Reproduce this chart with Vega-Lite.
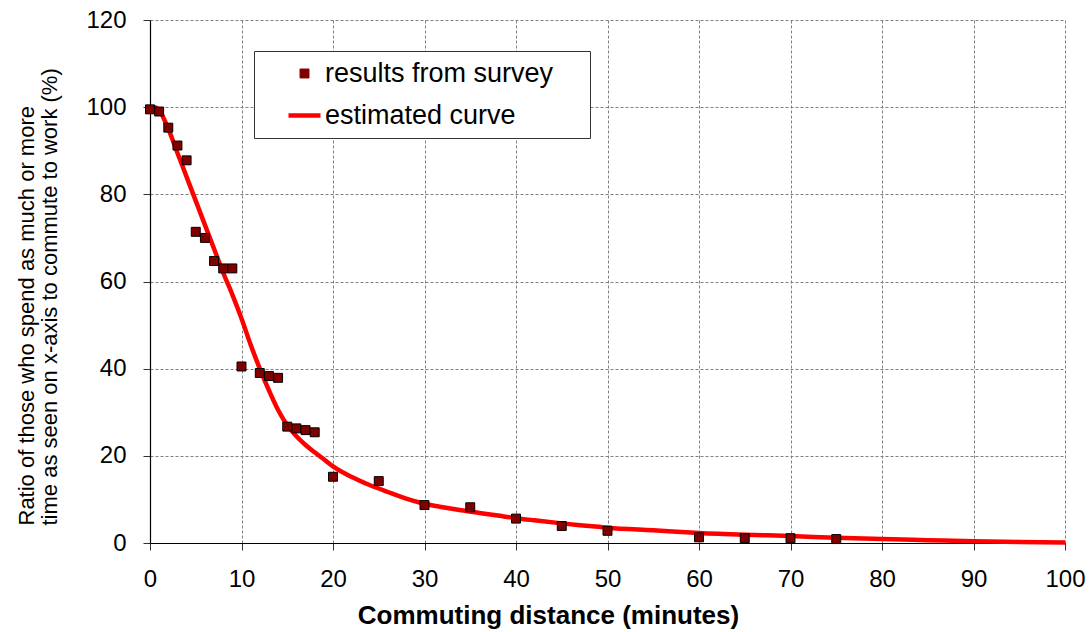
{
  "$schema": "https://vega.github.io/schema/vega-lite/v6.json",
  "width": 915,
  "height": 523,
  "autosize": {"type": "none"},
  "padding": {"left": 150, "top": 20, "right": 25, "bottom": 89},
  "background": "white",
  "config": {"view": {"stroke": null}, "font": "Liberation Sans"},
  "datasets": {
    "survey": [
      {"minutes": 0, "ratio": 99.5, "series": "results from survey"},
      {"minutes": 1, "ratio": 99, "series": "results from survey"},
      {"minutes": 2, "ratio": 95.3, "series": "results from survey"},
      {"minutes": 3, "ratio": 91.2, "series": "results from survey"},
      {"minutes": 4, "ratio": 87.8, "series": "results from survey"},
      {"minutes": 5, "ratio": 71.4, "series": "results from survey"},
      {"minutes": 6, "ratio": 70, "series": "results from survey"},
      {"minutes": 7, "ratio": 64.7, "series": "results from survey"},
      {"minutes": 8, "ratio": 63, "series": "results from survey"},
      {"minutes": 9, "ratio": 63, "series": "results from survey"},
      {"minutes": 10, "ratio": 40.5, "series": "results from survey"},
      {"minutes": 12, "ratio": 39, "series": "results from survey"},
      {"minutes": 13, "ratio": 38.3, "series": "results from survey"},
      {"minutes": 14, "ratio": 37.9, "series": "results from survey"},
      {"minutes": 15, "ratio": 26.7, "series": "results from survey"},
      {"minutes": 16, "ratio": 26.3, "series": "results from survey"},
      {"minutes": 17, "ratio": 25.9, "series": "results from survey"},
      {"minutes": 18, "ratio": 25.4, "series": "results from survey"},
      {"minutes": 20, "ratio": 15.2, "series": "results from survey"},
      {"minutes": 25, "ratio": 14.2, "series": "results from survey"},
      {"minutes": 30, "ratio": 8.7, "series": "results from survey"},
      {"minutes": 35, "ratio": 8.2, "series": "results from survey"},
      {"minutes": 40, "ratio": 5.6, "series": "results from survey"},
      {"minutes": 45, "ratio": 3.9, "series": "results from survey"},
      {"minutes": 50, "ratio": 2.8, "series": "results from survey"},
      {"minutes": 60, "ratio": 1.3, "series": "results from survey"},
      {"minutes": 65, "ratio": 1.1, "series": "results from survey"},
      {"minutes": 70, "ratio": 1.1, "series": "results from survey"},
      {"minutes": 75, "ratio": 0.9, "series": "results from survey"}
    ],
    "curve": [
      {"minutes": 0, "ratio": 100, "series": "estimated curve"},
      {"minutes": 0.5, "ratio": 100, "series": "estimated curve"},
      {"minutes": 1, "ratio": 99.3, "series": "estimated curve"},
      {"minutes": 2, "ratio": 95, "series": "estimated curve"},
      {"minutes": 3, "ratio": 89.5, "series": "estimated curve"},
      {"minutes": 4, "ratio": 84, "series": "estimated curve"},
      {"minutes": 5, "ratio": 78.5, "series": "estimated curve"},
      {"minutes": 6, "ratio": 73, "series": "estimated curve"},
      {"minutes": 7, "ratio": 67.5, "series": "estimated curve"},
      {"minutes": 8, "ratio": 62, "series": "estimated curve"},
      {"minutes": 9, "ratio": 57, "series": "estimated curve"},
      {"minutes": 10, "ratio": 51.5, "series": "estimated curve"},
      {"minutes": 11, "ratio": 45.5, "series": "estimated curve"},
      {"minutes": 12, "ratio": 40, "series": "estimated curve"},
      {"minutes": 13, "ratio": 35, "series": "estimated curve"},
      {"minutes": 14, "ratio": 30.5, "series": "estimated curve"},
      {"minutes": 15, "ratio": 27, "series": "estimated curve"},
      {"minutes": 16, "ratio": 24.5, "series": "estimated curve"},
      {"minutes": 17, "ratio": 22.5, "series": "estimated curve"},
      {"minutes": 18, "ratio": 20.8, "series": "estimated curve"},
      {"minutes": 19, "ratio": 19.2, "series": "estimated curve"},
      {"minutes": 20, "ratio": 17.6, "series": "estimated curve"},
      {"minutes": 22, "ratio": 15.2, "series": "estimated curve"},
      {"minutes": 24, "ratio": 13.3, "series": "estimated curve"},
      {"minutes": 26, "ratio": 11.7, "series": "estimated curve"},
      {"minutes": 28, "ratio": 10.2, "series": "estimated curve"},
      {"minutes": 30, "ratio": 9, "series": "estimated curve"},
      {"minutes": 32, "ratio": 8.2, "series": "estimated curve"},
      {"minutes": 34, "ratio": 7.5, "series": "estimated curve"},
      {"minutes": 36, "ratio": 6.9, "series": "estimated curve"},
      {"minutes": 38, "ratio": 6.3, "series": "estimated curve"},
      {"minutes": 40, "ratio": 5.7, "series": "estimated curve"},
      {"minutes": 42, "ratio": 5.2, "series": "estimated curve"},
      {"minutes": 45, "ratio": 4.5, "series": "estimated curve"},
      {"minutes": 48, "ratio": 3.9, "series": "estimated curve"},
      {"minutes": 50, "ratio": 3.5, "series": "estimated curve"},
      {"minutes": 55, "ratio": 2.9, "series": "estimated curve"},
      {"minutes": 60, "ratio": 2.3, "series": "estimated curve"},
      {"minutes": 65, "ratio": 1.9, "series": "estimated curve"},
      {"minutes": 70, "ratio": 1.6, "series": "estimated curve"},
      {"minutes": 75, "ratio": 1.2, "series": "estimated curve"},
      {"minutes": 80, "ratio": 0.9, "series": "estimated curve"},
      {"minutes": 85, "ratio": 0.65, "series": "estimated curve"},
      {"minutes": 90, "ratio": 0.4, "series": "estimated curve"},
      {"minutes": 95, "ratio": 0.25, "series": "estimated curve"},
      {"minutes": 100, "ratio": 0.1, "series": "estimated curve"}
    ]
  },
  "encoding": {
    "x": {
      "field": "minutes",
      "type": "quantitative",
      "scale": {"domain": [0, 100], "nice": false, "zero": false},
      "axis": {
        "values": [0, 10, 20, 30, 40, 50, 60, 70, 80, 90, 100],
        "grid": true,
        "gridDash": [3, 2],
        "gridColor": "#808080",
        "gridWidth": 1,
        "domainColor": "#000000",
        "domainWidth": 1.2,
        "tickColor": "#333333",
        "tickSize": 7,
        "labelFont": "Liberation Sans",
        "labelFontSize": 24,
        "labelColor": "#000000",
        "labelPadding": 17,
        "labelFlush": false,
        "labelOverlap": false,
        "title": "Commuting distance (minutes)",
        "titleFont": "Liberation Sans",
        "titleFontSize": 26,
        "titleFontWeight": "bold",
        "titleColor": "#000000",
        "titleX": 398,
        "titleY": 80,
        "titleAlign": "center",
        "titleBaseline": "alphabetic"
      }
    },
    "y": {
      "field": "ratio",
      "type": "quantitative",
      "scale": {"domain": [0, 120], "nice": false},
      "axis": {
        "values": [0, 20, 40, 60, 80, 100, 120],
        "grid": true,
        "gridDash": [3, 2],
        "gridColor": "#808080",
        "gridWidth": 1,
        "domainColor": "#000000",
        "domainWidth": 1.2,
        "tickColor": "#333333",
        "tickSize": 7,
        "labelFont": "Liberation Sans",
        "labelFontSize": 24,
        "labelColor": "#000000",
        "labelPadding": 17,
        "labelOverlap": false,
        "title": ["Ratio of those who spend as much or more", "time as seen on x-axis to commute to work (%)"],
        "titleFont": "Liberation Sans",
        "titleFontSize": 22,
        "titleFontWeight": "normal",
        "titleColor": "#000000",
        "titleAngle": -90,
        "titleX": -134,
        "titleY": 505,
        "titleAlign": "left",
        "titleBaseline": "top",
        "titleLineHeight": 23
      }
    },
    "color": {
      "field": "series",
      "type": "nominal",
      "scale": {"domain": ["results from survey", "estimated curve"], "range": ["#800000", "#ff0000"]},
      "legend": {
        "title": ".",
        "titleOrient": "right",
        "titlePadding": 20,
        "titleOpacity": 0,
        "titleFontSize": 27,
        "orient": "none",
        "legendX": 104,
        "legendY": 31,
        "padding": 9,
        "strokeColor": "#333333",
        "fillColor": "#ffffff",
        "symbolSize": 1024,
        "symbolOffset": 28,
        "labelOffset": 7,
        "rowPadding": 14,
        "labelFont": "Liberation Sans",
        "labelFontSize": 27,
        "labelColor": "#000000",
        "labelLimit": 0,
        "encode": {
          "symbols": {
            "update": {
              "shape": {"signal": "datum.value === 'estimated curve' ? 'stroke' : 'square'"},
              "fill": {"signal": "datum.value === 'estimated curve' ? 'transparent' : '#800000'"},
              "stroke": {"signal": "datum.value === 'estimated curve' ? '#ff0000' : '#000000'"},
              "strokeWidth": {"signal": "datum.value === 'estimated curve' ? 4.5 : 1"},
              "size": {"signal": "datum.value === 'estimated curve' ? 1024 : 80"},
              "opacity": {"value": 1}
            }
          }
        }
      }
    }
  },
  "layer": [
    {
      "data": {"name": "curve"},
      "mark": {"type": "line", "strokeWidth": 4.5, "interpolate": "monotone"}
    },
    {
      "data": {"name": "survey"},
      "mark": {"type": "point", "shape": "square", "filled": true, "size": 80, "stroke": "#000000", "strokeWidth": 1, "opacity": 1}
    }
  ]
}
